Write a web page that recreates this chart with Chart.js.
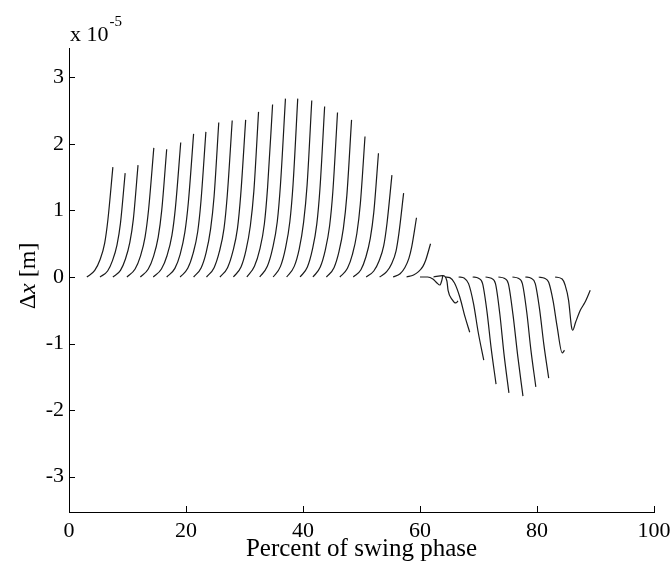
<!DOCTYPE html>
<html>
<head>
<meta charset="utf-8">
<script src="https://cdn.jsdelivr.net/npm/chart.js@4.4.1/dist/chart.umd.min.js"></script>
<style>
  html, body { margin: 0; padding: 0; background: #fff; }
</style>
</head>
<body>
<canvas id="c" width="671" height="564"></canvas>
<script>
// tick values
const xTicks = [0, 20, 40, 60, 80, 100];
const yTicks = [-3, -2, -1, 0, 1, 2, 3];

// curves that rise before ~62 % of swing (x in %, y in 1e-5 m)
const riseX = [
  [3.05, 4.4, 5.3, 6.1, 6.65, 7.5],
  [5.3, 6.6, 7.45, 8.2, 8.8, 9.6],
  [7.5, 8.8, 9.65, 10.4, 11.0, 11.8],
  [9.9, 11.3, 12.2, 13.0, 13.6, 14.5],
  [12.2, 13.55, 14.45, 15.25, 15.85, 16.7],
  [14.4, 15.8, 16.75, 17.6, 18.2, 19.1],
  [16.7, 18.1, 19.0, 19.8, 20.4, 21.3],
  [19.0, 20.3, 21.2, 22.0, 22.55, 23.4],
  [21.3, 22.6, 23.45, 24.2, 24.8, 25.6],
  [23.5, 24.8, 25.7, 26.5, 27.05, 27.9],
  [25.8, 27.1, 28.0, 28.8, 29.35, 30.2],
  [28.1, 29.4, 30.25, 31.0, 31.6, 32.4],
  [30.4, 31.7, 32.6, 33.4, 33.95, 34.8],
  [32.6, 33.9, 34.8, 35.6, 36.15, 37.0],
  [34.9, 36.15, 37.0, 37.75, 38.3, 39.1],
  [37.2, 38.5, 39.35, 40.1, 40.7, 41.5],
  [39.5, 40.75, 41.6, 42.35, 42.9, 43.7],
  [41.7, 42.95, 43.8, 44.55, 45.1, 45.9],
  [44.0, 45.3, 46.15, 46.9, 47.5, 48.3],
  [46.3, 47.6, 48.45, 49.2, 49.8, 50.6],
  [48.6, 49.9, 50.75, 51.5, 52.1, 52.9],
  [50.8, 52.1, 53.0, 53.8, 54.35, 55.2],
  [53.1, 54.3, 55.15, 55.9, 56.4, 57.2],
  [55.4, 56.6, 57.4, 58.1, 58.6, 59.4],
  [57.7, 58.9, 59.75, 60.5, 61.0, 61.8]
];
const riseY = [
  [0, 0.10, 0.26, 0.51, 0.86, 1.65],
  [0, 0.09, 0.25, 0.48, 0.81, 1.56],
  [0, 0.10, 0.27, 0.52, 0.87, 1.68],
  [0, 0.12, 0.31, 0.60, 1.01, 1.94],
  [0, 0.12, 0.31, 0.60, 1.00, 1.92],
  [0, 0.12, 0.32, 0.63, 1.05, 2.02],
  [0, 0.13, 0.34, 0.67, 1.12, 2.15],
  [0, 0.13, 0.35, 0.68, 1.13, 2.18],
  [0, 0.14, 0.37, 0.72, 1.21, 2.32],
  [0, 0.14, 0.38, 0.73, 1.22, 2.35],
  [0, 0.14, 0.38, 0.73, 1.23, 2.36],
  [0, 0.15, 0.40, 0.77, 1.29, 2.48],
  [0, 0.16, 0.41, 0.80, 1.35, 2.59],
  [0, 0.16, 0.43, 0.83, 1.39, 2.68],
  [0, 0.16, 0.43, 0.83, 1.39, 2.68],
  [0, 0.16, 0.42, 0.82, 1.38, 2.65],
  [0, 0.15, 0.41, 0.79, 1.33, 2.56],
  [0, 0.15, 0.40, 0.77, 1.28, 2.47],
  [0, 0.14, 0.38, 0.73, 1.23, 2.36],
  [0, 0.13, 0.34, 0.65, 1.10, 2.11],
  [0, 0.11, 0.30, 0.58, 0.97, 1.86],
  [0, 0.09, 0.24, 0.47, 0.80, 1.53],
  [0, 0.08, 0.20, 0.39, 0.66, 1.26],
  [0, 0.05, 0.14, 0.28, 0.46, 0.89],
  [0, 0.03, 0.08, 0.16, 0.26, 0.50]
];

// curves after the sign change (wiggles, then falling)
const fallX = [
  [60.0, 61.3, 62.2, 62.9, 63.4, 63.7, 63.9],
  [62.3, 63.9, 64.6, 64.8, 65.5, 66.1, 66.5],
  [64.3, 65.1, 65.9, 66.8, 67.7, 68.5],
  [66.6, 67.6, 68.3, 69.15, 69.95, 70.9],
  [69.0, 70.0, 70.7, 71.45, 72.15, 73.0],
  [71.2, 72.2, 72.9, 73.65, 74.35, 75.2],
  [73.4, 74.4, 75.1, 75.9, 76.7, 77.6],
  [75.8, 76.8, 77.5, 78.25, 78.95, 79.8],
  [78.0, 79.0, 79.7, 80.45, 81.15, 82.0],
  [80.3, 81.3, 82.0, 82.75, 83.45, 84.3, 84.7],
  [83.1, 84.3, 84.8, 85.4, 85.9, 86.1, 86.6, 87.4, 88.2, 89.1]
];
const fallY = [
  [0, 0, -0.03, -0.09, -0.12, -0.06, 0.02],
  [0, 0.02, -0.06, -0.20, -0.34, -0.39, -0.36],
  [0, -0.01, -0.09, -0.30, -0.60, -0.83],
  [0, -0.02, -0.10, -0.40, -0.83, -1.25],
  [0, -0.02, -0.10, -0.52, -1.06, -1.61],
  [0, -0.02, -0.10, -0.56, -1.15, -1.74],
  [0, -0.02, -0.10, -0.57, -1.18, -1.79],
  [0, -0.02, -0.10, -0.53, -1.09, -1.65],
  [0, -0.02, -0.10, -0.49, -1.00, -1.52],
  [0, -0.02, -0.08, -0.36, -0.75, -1.14, -1.10],
  [0, -0.03, -0.12, -0.35, -0.75, -0.80, -0.68, -0.50, -0.38, -0.20]
];

const serif = "'Liberation Serif', 'Times New Roman', serif";

function toPoints(xs, ys) {
  return xs.map((x, i) => ({ x: x, y: ys[i] }));
}

const datasets = [];
riseX.forEach((xs, i) => datasets.push({ data: toPoints(xs, riseY[i]) }));
fallX.forEach((xs, i) => datasets.push({ data: toPoints(xs, fallY[i]) }));
datasets.forEach(d => {
  d.showLine = true;
  d.borderColor = "#1a1a1a";
  d.borderWidth = 1.2;
  d.pointRadius = 0;
  d.fill = false;
  d.cubicInterpolationMode = "monotone";
});

// inward ticks, y title and exponent, drawn like the matlab figure
const extras = {
  id: "extras",
  afterDraw(chart) {
    const ctx = chart.ctx;
    const xs = chart.scales.x, ys = chart.scales.y;
    const a = chart.chartArea;
    ctx.save();
    ctx.strokeStyle = "#000";
    ctx.lineWidth = 1;
    ctx.beginPath();
    xTicks.forEach(v => {
      if (v === 0) return;
      const px = Math.round(xs.getPixelForValue(v)) + 0.5;
      ctx.moveTo(px, a.bottom);
      ctx.lineTo(px, a.bottom - 6);
    });
    yTicks.forEach(v => {
      const py = Math.round(ys.getPixelForValue(v)) + 0.5;
      ctx.moveTo(a.left, py);
      ctx.lineTo(a.left + 6, py);
    });
    ctx.stroke();

    ctx.fillStyle = "#000";
    ctx.textBaseline = "alphabetic";
    ctx.textAlign = "left";
    ctx.font = "22px " + serif;
    ctx.fillText("x 10", 70, 41);
    const w = ctx.measureText("x 10").width;
    ctx.font = "15px " + serif;
    ctx.fillText("-5", 70 + w + 1, 26);

    // y title: "Δx [m]" with italic x
    ctx.translate(35, 276);
    ctx.rotate(-Math.PI / 2);
    const parts = [["Δ", "24px " + serif], ["x", "italic 24px " + serif], [" [m]", "24px " + serif]];
    let total = 0;
    parts.forEach(p => { ctx.font = p[1]; total += ctx.measureText(p[0]).width; });
    let cx = -total / 2;
    parts.forEach(p => {
      ctx.font = p[1];
      ctx.fillText(p[0], cx, 0);
      cx += ctx.measureText(p[0]).width;
    });
    ctx.restore();
  }
};

new Chart(document.getElementById("c"), {
  type: "scatter",
  data: { datasets: datasets },
  options: {
    responsive: false,
    animation: false,
    layout: { padding: { left: 0, top: 48, right: 17, bottom: 0 } },
    plugins: { legend: { display: false }, tooltip: { enabled: false } },
    scales: {
      x: {
        type: "linear",
        min: 0,
        max: 100,
        afterBuildTicks: s => { s.ticks = xTicks.map(v => ({ value: v })); },
        afterFit: s => { s.height = 52; s.paddingRight = 0; s.paddingLeft = 0; },
        grid: { display: false, drawTicks: false },
        border: { display: true, color: "#000", width: 1 },
        ticks: { color: "#000", font: { family: serif, size: 22 }, padding: 6, maxRotation: 0 },
        title: {
          display: true,
          text: "Percent of swing phase",
          color: "#000",
          font: { family: serif, size: 25 },
          padding: { top: 0, bottom: 0 }
        }
      },
      y: {
        type: "linear",
        min: -3.53,
        max: 3.44,
        afterBuildTicks: s => { s.ticks = yTicks.map(v => ({ value: v })); },
        afterFit: s => { s.width = 69; },
        grid: { display: false, drawTicks: false },
        border: { display: true, color: "#000", width: 1 },
        ticks: { color: "#000", font: { family: serif, size: 22 }, padding: 5, callback: v => String(v) }
      }
    }
  },
  plugins: [extras]
});
</script>
</body>
</html>
